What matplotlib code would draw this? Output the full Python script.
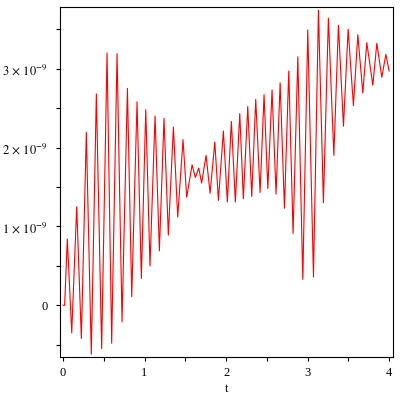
import matplotlib
matplotlib.use("Agg")
import matplotlib.pyplot as plt
from matplotlib.ticker import FixedLocator, MultipleLocator

# extrema of the response curve (t, value in units of 1e-9)
t_pts = [
    0.0, 0.02, 0.053, 0.107, 0.168, 0.225, 0.286, 0.347, 0.409, 0.474,
    0.54, 0.597, 0.663, 0.724, 0.79, 0.843, 0.908, 0.961, 1.015, 1.067,
    1.129, 1.182, 1.239, 1.292, 1.354, 1.407, 1.472, 1.517, 1.583, 1.624,
    1.665, 1.70, 1.755, 1.804, 1.862, 1.906, 1.967, 2.016, 2.065, 2.114,
    2.168, 2.212, 2.266, 2.315, 2.364, 2.417, 2.466, 2.512, 2.564, 2.613,
    2.663, 2.716, 2.769, 2.822, 2.88, 2.941, 3.002, 3.072, 3.133, 3.194,
    3.255, 3.322, 3.378, 3.44, 3.497, 3.562, 3.616, 3.677, 3.726, 3.80,
    3.849, 3.91, 3.96, 4.0,
]
y_pts = [
    0.0, 0.0, 0.84, -0.35, 1.25, -0.42, 2.19, -0.62, 2.68, -0.55,
    3.20, -0.48, 3.19, -0.21, 2.75, 0.11, 2.58, 0.34, 2.48, 0.50,
    2.40, 0.69, 2.37, 0.89, 2.26, 1.12, 2.10, 1.37, 1.78, 1.62,
    1.74, 1.55, 1.90, 1.42, 2.07, 1.33, 2.21, 1.31, 2.33, 1.31,
    2.43, 1.35, 2.52, 1.38, 2.61, 1.43, 2.67, 1.48, 2.73, 1.41,
    2.82, 1.23, 2.97, 0.91, 3.15, 0.33, 3.49, 0.36, 3.74, 1.30,
    3.64, 1.90, 3.55, 2.27, 3.50, 2.53, 3.43, 2.69, 3.33, 2.79,
    3.32, 2.89, 3.18, 2.97,
]
scale = 1e-9

y_ticks = [0, 1e-9, 2e-9, 3e-9]
y_tick_labels = ["0", r"$1\,\times\,10^{-9}$", r"$2\,\times\,10^{-9}$", r"$3\,\times\,10^{-9}$"]
x_ticks = [0, 1, 2, 3, 4]

plt.rcParams["font.family"] = ["Liberation Serif", "DejaVu Serif"]
plt.rcParams["mathtext.fontset"] = "stix"

fig = plt.figure(figsize=(4, 4), dpi=100)
ax = fig.add_axes([0.15, 0.1075, 0.832, 0.875])

ax.plot(t_pts, [v * scale for v in y_pts], color="#ff0000", linewidth=0.8)

ax.set_xlim(-0.0368, 4.045)
ax.set_ylim(-0.655e-9, 3.781e-9)

ax.xaxis.set_major_locator(FixedLocator(x_ticks))
ax.xaxis.set_minor_locator(MultipleLocator(0.5))
ax.set_xticklabels([str(v) for v in x_ticks])
ax.yaxis.set_major_locator(FixedLocator(y_ticks))
ax.yaxis.set_minor_locator(MultipleLocator(0.5e-9))
ax.set_yticklabels(y_tick_labels)

ax.tick_params(which="both", direction="out", length=3, width=0.8, labelsize=9,
               color="black")
ax.tick_params(axis="y", pad=6)
ax.tick_params(axis="x", pad=4)
for sp in ax.spines.values():
    sp.set_linewidth(0.8)

ax.set_xlabel("t", fontsize=9, labelpad=3)

fig.savefig("out.png", dpi=100)
